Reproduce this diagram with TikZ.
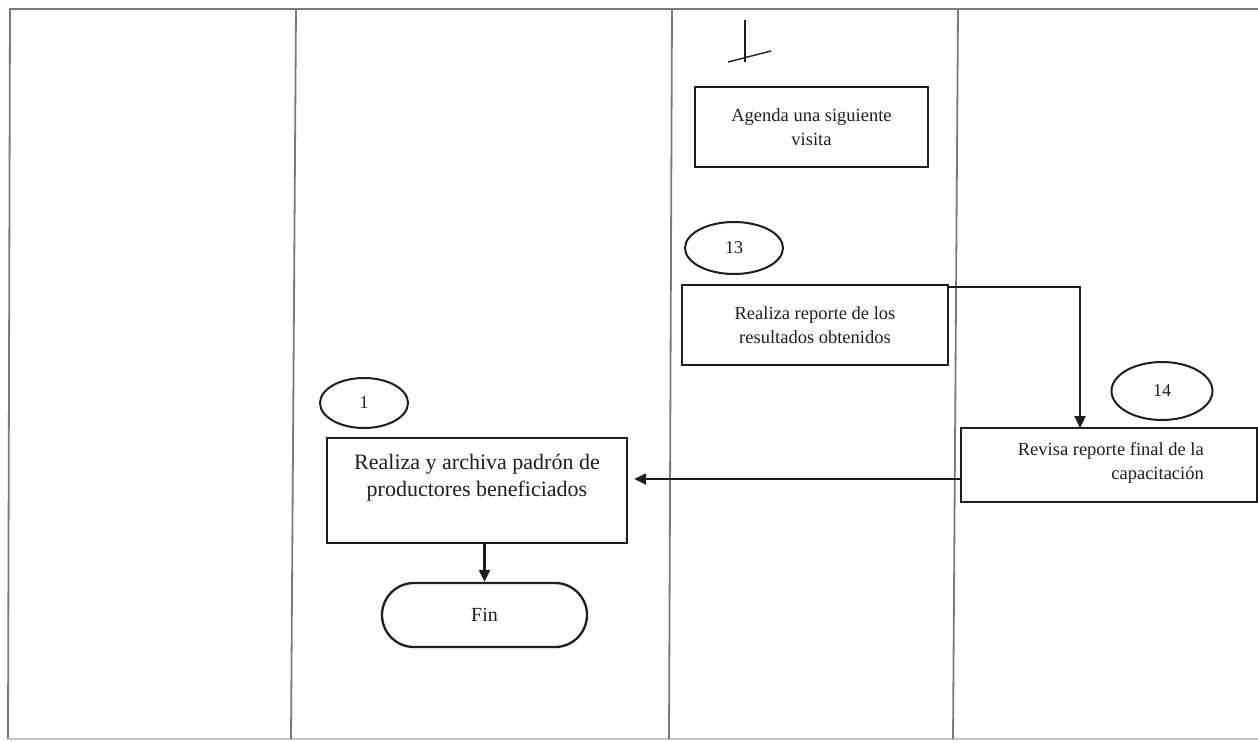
\documentclass[tikz,border=0pt]{standalone}
\usepackage{fontspec}
\setmainfont{Liberation Serif}
\usetikzlibrary{arrows.meta,shapes.geometric}
\definecolor{frameg}{HTML}{7A7A7A}
\definecolor{ink}{HTML}{1E1E1E}
\begin{document}
\begin{tikzpicture}[x=1pt,y=-1pt,
  lane/.style={draw=frameg,line width=1.8pt},
  procbox/.style={draw=ink,line width=2.3pt,rectangle,inner sep=0pt,align=center,text=ink},
  refoval/.style={draw=ink,line width=2pt,ellipse,inner sep=0pt,text=ink,font=\fontsize{18}{20}\selectfont},
  termbox/.style={draw=ink,line width=2.3pt,rectangle,rounded corners=32pt,inner sep=0pt,text=ink,font=\fontsize{20}{22}\selectfont},
  arr/.style={draw=ink,line width=2.2pt,-{Triangle[length=12pt,width=11pt]}},
  smalltxt/.style={font=\fontsize{18.5}{24}\selectfont}
]
\useasboundingbox (0,0) rectangle (1258,742);
\fill[white] (0,0) rectangle (1258,742);
% swimlane frame
\draw[lane] (1258,9) -- (10,9) -- (8,739);
\draw[lane,draw=frameg!45] (8,739) -- (1258,739);
\draw[lane] (296,9) -- (291,739);
\draw[lane] (672,9) -- (669,739);
\draw[lane] (958,9) -- (953,739);
% hand mark
\draw[ink,line width=1.4pt] (745,20) -- (745,62);
\draw[ink,line width=1.4pt] (728,62) -- (771,51);
% boxes
\node[procbox,smalltxt,minimum width=233pt,minimum height=80pt] (agenda) at (811.5,127) {Agenda una siguiente\\visita};
\node[refoval,minimum width=98pt,minimum height=52pt] (o13) at (734,248) {13};
\node[procbox,smalltxt,minimum width=266pt,minimum height=80pt] (rep) at (815,325) {Realiza reporte de los\\resultados obtenidos};
\node[refoval,minimum width=101pt,minimum height=58pt] (o14) at (1162,391) {14};
\node[procbox,minimum width=296pt,minimum height=74pt] (rev) at (1109,465) {};
\node[smalltxt,anchor=east,align=right,text=ink,inner sep=0pt] (revt) at (1204,463) {Revisa reporte final de la\\capacitación};
\node[refoval,minimum width=88pt,minimum height=50pt] (o1) at (364,403) {1};
\node[procbox,minimum width=300pt,minimum height=105pt] (arch) at (477,490.5) {};
\node[font=\fontsize{22}{27}\selectfont,align=center,text=ink,inner sep=0pt] (archt) at (477,478) {Realiza y archiva padrón de\\productores beneficiados};
\node[termbox,minimum width=205pt,minimum height=64pt] (fin) at (484.5,615) {Fin};
% connectors
\coordinate (revin) at (1080,428);
\draw[arr] ([yshift=-3pt]rep.north east) -| (revin);
\draw[arr,shorten >=6pt] ([yshift=-14pt]rev.west) -- ([yshift=-14pt]rev.west -| arch.east);
\draw[arr] (arch.south -| fin.north) -- (fin.north);
\end{tikzpicture}
\end{document}
